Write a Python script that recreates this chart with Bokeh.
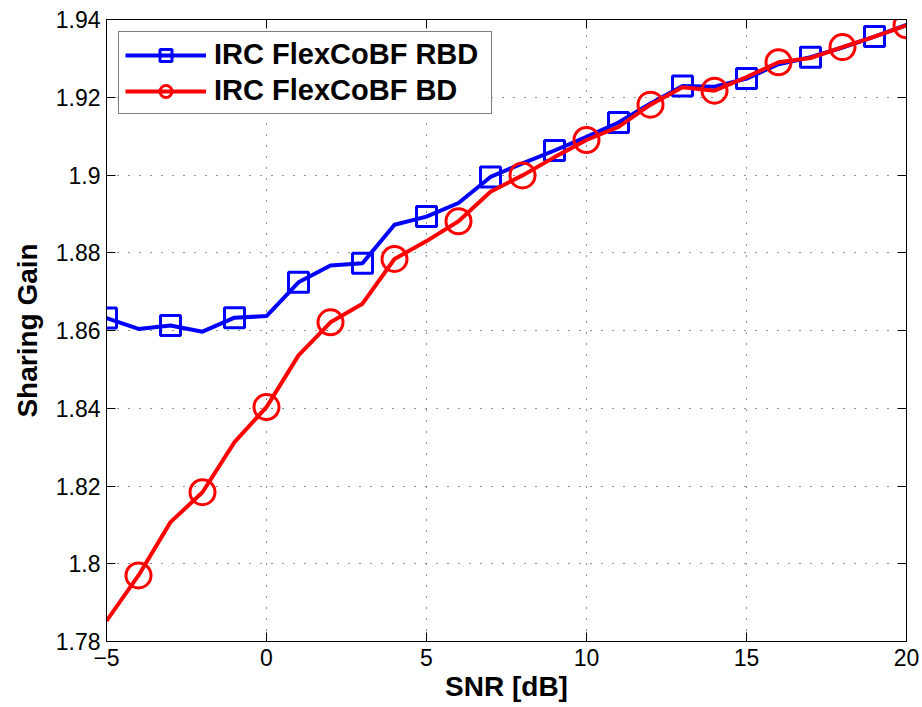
from bokeh.plotting import figure
from bokeh.models import (LinearAxis, FixedTicker, Range1d, Legend, LegendItem,
                          ColumnDataSource, CustomLabelingPolicy)
from bokeh.embed import file_html
from bokeh.resources import INLINE

# ---- data ----
snr = list(range(-5, 21))
rbd = [1.8632, 1.8604, 1.8613, 1.8597, 1.8633, 1.8637, 1.8724, 1.8767, 1.8773,
       1.8872, 1.8893, 1.8928, 1.8995, 1.9030, 1.9063, 1.9098, 1.9135, 1.9184,
       1.9229, 1.9227, 1.9248, 1.9285, 1.9303, 1.9328, 1.9356, 1.9386]
bd = [1.7853, 1.7970, 1.8107, 1.8184, 1.8313, 1.8403, 1.8536, 1.8621, 1.8669,
      1.8784, 1.8830, 1.8881, 1.8957, 1.8999, 1.9046, 1.9090, 1.9124, 1.9181,
      1.9226, 1.9217, 1.9252, 1.9290, 1.9301, 1.9329, 1.9356, 1.9385]
series_names = ["IRC FlexCoBF RBD", "IRC FlexCoBF BD"]

x_ticks = [-5, 0, 5, 10, 15, 20]
x_tick_labels = ["\u22125", "0", "5", "10", "15", "20"]
y_ticks = [1.78, 1.80, 1.82, 1.84, 1.86, 1.88, 1.90, 1.92, 1.94]
y_tick_labels = ["1.78", "1.8", "1.82", "1.84", "1.86", "1.88", "1.9", "1.92", "1.94"]

FONT = "Liberation Sans"

p = figure(width=922, height=707, output_backend="svg", toolbar_location=None,
           x_range=Range1d(-5, 20), y_range=Range1d(1.78, 1.94),
           x_axis_label="SNR [dB]", y_axis_label="Sharing Gain",
           min_border_left=106, min_border_right=16, min_border_top=19,
           min_border_bottom=66)
p.outline_line_color = "black"
p.outline_line_width = 1
p.background_fill_color = "white"
p.border_fill_color = "white"

def style_axis(ax, ticks, labels, size="23px"):
    ax.ticker = FixedTicker(ticks=ticks)
    ax.major_label_overrides = dict(zip(ticks, labels))
    ax.major_tick_in = 9
    ax.major_tick_out = 0
    ax.minor_tick_line_color = None
    ax.axis_line_color = "black"
    ax.major_tick_line_color = "black"
    ax.major_label_text_font = FONT
    ax.major_label_text_font_size = size
    ax.major_label_text_color = "black"
    ax.axis_label_text_font = FONT
    ax.axis_label_text_font_size = "28px"
    ax.axis_label_text_font_style = "bold"
    ax.axis_label_text_color = "black"

style_axis(p.xaxis[0], x_ticks, x_tick_labels)
style_axis(p.yaxis[0], y_ticks, y_tick_labels)
p.xaxis[0].major_label_standoff = 7
p.yaxis[0].major_label_standoff = 6
p.xaxis[0].axis_label_standoff = 2
p.yaxis[0].axis_label_standoff = 10

# mirror axes (ticks only, MATLAB box style)
HIDE = "for (const i of Array.from(indices)) { indices.unset(i) }\nreturn indices"
top_ax = LinearAxis()
style_axis(top_ax, x_ticks, x_tick_labels, size="0px")
top_ax.major_label_policy = CustomLabelingPolicy(code=HIDE)
top_ax.major_label_standoff = 0
p.add_layout(top_ax, "above")
right_ax = LinearAxis()
style_axis(right_ax, y_ticks, y_tick_labels, size="0px")
right_ax.major_label_policy = CustomLabelingPolicy(code=HIDE)
right_ax.major_label_standoff = 0
p.add_layout(right_ax, "right")

for g in (p.xgrid[0], p.ygrid[0]):
    g.grid_line_color = "#222222"
    g.grid_line_dash = "1 10"
    g.grid_line_width = 1
p.xgrid[0].ticker = FixedTicker(ticks=x_ticks)
p.ygrid[0].ticker = FixedTicker(ticks=y_ticks)

src = ColumnDataSource(data=dict(x=snr, rbd=rbd, bd=bd))
src_sq = ColumnDataSource(data=dict(x=snr[::2], y=rbd[::2]))
src_ci = ColumnDataSource(data=dict(x=snr[1::2], y=bd[1::2]))

l1 = p.line("x", "rbd", source=src, line_color="#0000ff", line_width=4)
m1 = p.scatter("x", "y", source=src_sq, marker="square", size=20,
               line_color="#0000ff", line_width=3, fill_color=None)
l2 = p.line("x", "bd", source=src, line_color="#ff0000", line_width=4)
m2 = p.scatter("x", "y", source=src_ci, marker="circle", size=25,
               line_color="#ff0000", line_width=3, fill_color=None)

legend = Legend(items=[LegendItem(label=series_names[0], renderers=[l1, m1]),
                       LegendItem(label=series_names[1], renderers=[l2, m2])],
                location="top_left")
legend.margin = 12
legend.padding = 6
legend.spacing = 3
legend.glyph_width = 81
legend.glyph_height = 30
legend.label_height = 30
legend.label_width = 271
legend.label_standoff = 8
legend.label_text_font = FONT
legend.label_text_font_size = "29px"
legend.label_text_font_style = "bold"
legend.label_text_color = "black"
legend.border_line_color = "black"
legend.border_line_width = 1
legend.background_fill_color = "white"
legend.background_fill_alpha = 1.0
p.add_layout(legend)

open("out.html", "w").write(file_html(p, INLINE))
